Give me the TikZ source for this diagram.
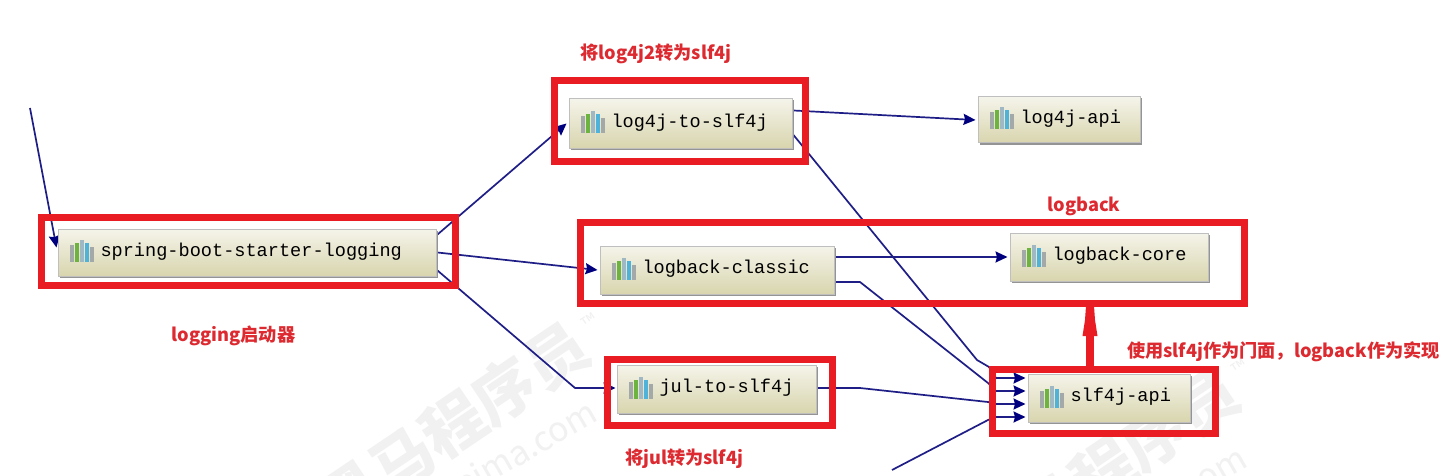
\documentclass[tikz,border=0pt]{standalone}
\usepackage{fontspec}
\usetikzlibrary{arrows.meta,shadows,backgrounds}
\setmainfont{Noto Sans CJK SC}
\newfontfamily\monoface{Liberation Mono}
\definecolor{markred}{HTML}{E91C24}
\definecolor{labelred}{HTML}{DC2A30}
\definecolor{edgeblue}{HTML}{1E1E86}
\definecolor{tipblue}{HTML}{00007F}
\definecolor{wmgray}{HTML}{F1F1F1}
\definecolor{boxtop}{HTML}{F5F4EA}
\definecolor{boxbot}{HTML}{D8D5AE}
\definecolor{bargray}{HTML}{A3A8A8}
\definecolor{bargreen}{HTML}{6DB33F}
\definecolor{barmid}{HTML}{9FB8C4}
\definecolor{barblue}{HTML}{4FB3D9}
\pgfdeclarelayer{wm}
\pgfdeclarelayer{edges}
\pgfsetlayers{wm,edges,main}
\tikzset{
  modbox/.style={draw=black!25,line width=1pt,inner sep=0pt,
    top color=boxtop,bottom color=boxbot,
    drop shadow={shadow xshift=1.5pt,shadow yshift=-1.5pt,opacity=1,fill=black!42}},
  redbox/.style={draw=markred,line width=7pt,fill=none,inner sep=0pt},
  edge/.style={draw=edgeblue,line width=1.7pt,line join=round},
  tipped/.style={edge,-{Stealth[length=12pt,width=11pt,inset=1.5pt,color=tipblue]}},
  redlabel/.style={text=labelred,font=\bfseries\fontsize{18.2}{21}\selectfont,inner sep=0pt},
  wmtext/.style={text=wmgray,font=\bfseries\fontsize{62}{70}\selectfont,rotate=34,inner sep=0pt},
  wmsmall/.style={text=wmgray,font=\fontsize{34}{38}\selectfont,rotate=30,inner sep=0pt},
  wmtm/.style={text=wmgray,font=\fontsize{20}{22}\selectfont,rotate=34,inner sep=0pt}
}
\newcommand{\modnode}[6]{%
  \node[modbox,minimum width=#4pt,minimum height=#5pt] (#1) at (#2,#3)
    {\makebox[#4pt][l]{\hspace{42.5pt}\raisebox{6pt}{\monoface\fontsize{18.6}{20}\selectfont #6}}};
  \begin{scope}[shift={(#1.west)}]
    \fill[bargray] (12,9.5) rectangle ++(4,-17);
    \fill[bargreen] (17,9.5) rectangle ++(4,-19);
    \fill[barmid] (22,9.5) rectangle ++(4.5,-22);
    \fill[barblue] (27,9.5) rectangle ++(4,-19);
    \fill[bargray] (32,9.5) rectangle ++(4,-15);
  \end{scope}}
\begin{document}
\begin{tikzpicture}[x=1pt,y=-1pt]
\useasboundingbox (0,0) rectangle (1445,476);
\begin{pgfonlayer}{wm}
\fill[white] (0,0) rectangle (1445,476);
\clip (0,0) rectangle (1445,476);
\node[wmtext] (wmA) at (453,425) {黑马程序员};
\node[wmsmall] (wmAb) at (507,458) {itheima.com};
\node[wmtm] (wmAc) at (590,322) {™};
\node[wmtext] (wmB) at (1103,471) {黑马程序员};
\node[wmsmall] (wmBb) at (1157,504) {itheima.com};
\node[wmtm] (wmBc) at (1240,368) {™};
\end{pgfonlayer}

\modnode{spring}{247}{252.5}{378}{47}{spring-boot-starter-logging}
\modnode{ltos}{680.5}{123.5}{223}{49}{log4j-to-slf4j}
\modnode{lapi}{1059}{120}{162}{46}{log4j-api}
\modnode{classic}{717}{270}{234}{48}{logback-classic}
\modnode{core}{1109}{257}{198}{48}{logback-core}
\modnode{jul}{716.5}{389}{199}{48}{jul-to-slf4j}
\modnode{sapi}{1109}{398}{162}{48}{slf4j-api}

\node[redbox,minimum width=414pt,minimum height=68pt] (rspring) at (248.5,251.5) {};
\node[redbox,minimum width=251pt,minimum height=81pt] (rltos) at (680,121) {};
\node[redbox,minimum width=664pt,minimum height=81pt] (rlogback) at (912.5,263) {};
\node[redbox,minimum width=225pt,minimum height=66pt] (rjul) at (720,392.5) {};
\node[redbox,minimum width=223pt,minimum height=64pt] (rsapi) at (1104,401.5) {};

\coordinate (topin) at (30,108);
\coordinate (botin) at (892,470);

\begin{pgfonlayer}{edges}
\draw[tipped] (topin) -- ([yshift=5pt,xshift=-1pt]spring.west);
\draw[tipped] ([yshift=18pt,xshift=1pt]spring.east) -- ([xshift=-2pt]ltos.west);
\draw[tipped] ([xshift=1pt]spring.east) -- ([xshift=-2pt]classic.west);
\draw[tipped] ([yshift=-18pt,xshift=1pt]spring.east) -- (575,388) -- ([yshift=1pt,xshift=-1pt]jul.west);
\draw[tipped] ([yshift=13pt,xshift=1pt]ltos.east) -- ([xshift=-2pt]lapi.west);
\draw[tipped] ([yshift=13pt,xshift=1pt]classic.east) -- ([xshift=-2pt]core.west);
\draw[tipped] ([yshift=-11.5pt,xshift=1pt]ltos.east) -- (977,360) -- (989,367) -- (996,378) -- ([yshift=20pt,xshift=-2pt]sapi.west);
\draw[tipped] ([yshift=-12pt,xshift=1pt]classic.east) -- (860,282) -- (988,383) -- (996,391) -- ([yshift=7pt,xshift=-2pt]sapi.west);
\draw[tipped] ([yshift=1pt,xshift=1pt]jul.east) -- (860,388) -- (988,402) -- (996,404) -- ([yshift=-6pt,xshift=-2pt]sapi.west);
\draw[tipped] (botin) -- (988,420) -- (996,417) -- ([yshift=-19pt,xshift=-2pt]sapi.west);
\end{pgfonlayer}

\draw[draw=markred,line width=8pt] (1090,366) -- (1090,306);
\fill[markred] (1086,306) -- (1094,306) -- (1095,320) -- (1097.5,336) -- (1082.5,336) -- (1085,320) -- cycle;

\node[redlabel] (t1) at (656,54) {将log4j2转为slf4j};
\node[redlabel] (t2) at (1084,206) {logback};
\node[redlabel] (t3) at (233.5,336) {logging启动器};
\node[redlabel] (t4) at (1283.5,352) {使用slf4j作为门面，logback作为实现};
\node[redlabel] (t5) at (684,459) {将jul转为slf4j};
\end{tikzpicture}
\end{document}
